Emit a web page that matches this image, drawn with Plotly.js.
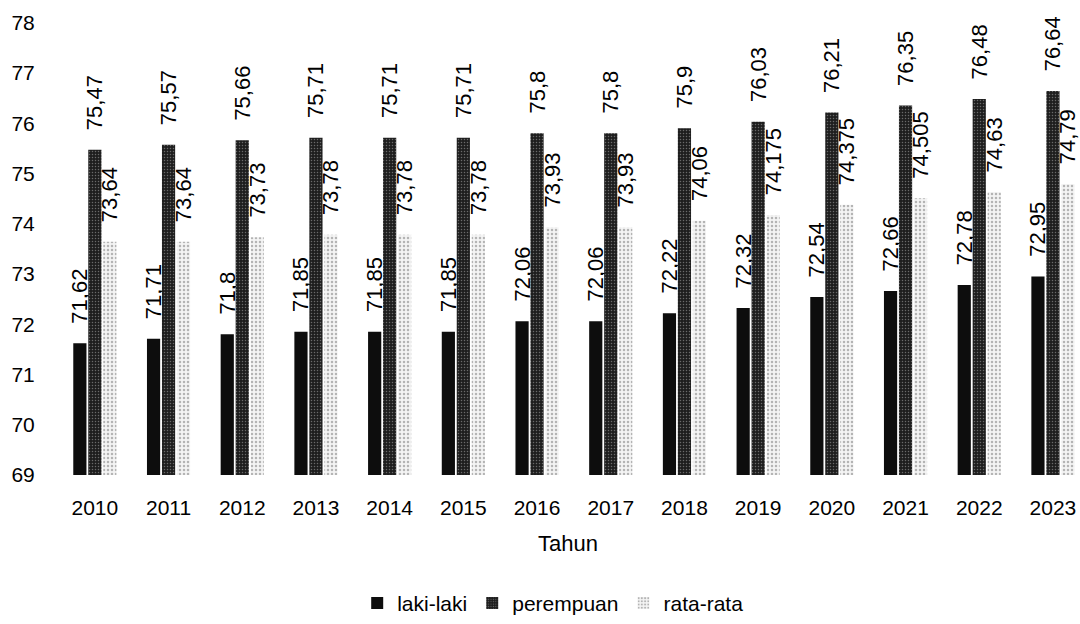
<!DOCTYPE html>
<html>
<head>
<meta charset="utf-8">
<script src="https://cdn.plot.ly/plotly-3.0.1.min.js"></script>
<style>
html,body{margin:0;padding:0;background:#fff;}
#chart{width:1080px;height:624px;}
</style>
</head>
<body>
<div id="chart"></div>
<script>
var years = ["2010","2011","2012","2013","2014","2015","2016","2017","2018","2019","2020","2021","2022","2023"];
var lakiLaki = [71.62,71.71,71.8,71.85,71.85,71.85,72.06,72.06,72.22,72.32,72.54,72.66,72.78,72.95];
var perempuan = [75.47,75.57,75.66,75.71,75.71,75.71,75.8,75.8,75.9,76.03,76.21,76.35,76.48,76.64];
var rataRata = [73.64,73.64,73.73,73.78,73.78,73.78,73.93,73.93,74.06,74.175,74.375,74.505,74.63,74.79];
var yTicks = [69,70,71,72,73,74,75,76,77,78];

var FONT = "Liberation Sans, Arial, sans-serif";
var PAD = "\u00a0\u00a0\u2009";
function labels(arr){ return arr.map(function(v){ return PAD + String(v).replace(".", ","); }); }

function barTrace(name, vals, pattern){
  return {
    type: "bar",
    name: name,
    x: years,
    y: vals,
    text: labels(vals),
    textposition: "outside",
    textangle: -90,
    constraintext: "none",
    cliponaxis: false,
    textfont: {family: FONT, size: 22, color: "#000"},
    marker: {color: pattern.bgcolor, line: {width: 0}, pattern: pattern},
    hoverinfo: "x+y"
  };
}

var data = [
  barTrace("laki-laki", lakiLaki, {shape: "", bgcolor: "#0d0d0d"}),
  barTrace("perempuan", perempuan, {shape: ".", bgcolor: "#1e1e1e", fgcolor: "#6a6a6a", size: 3, solidity: 0.2}),
  barTrace("rata-rata", rataRata, {shape: ".", bgcolor: "#f4f4f4", fgcolor: "#b4b4b4", size: 4, solidity: 0.3})
];

var layout = {
  width: 1080, height: 624,
  margin: {l: 58, r: 2, t: 0, b: 142},
  paper_bgcolor: "#fff", plot_bgcolor: "#fff",
  font: {family: FONT, size: 21, color: "#000"},
  barmode: "group",
  bargap: 0.39,
  bargroupgap: 0.12,
  showlegend: true,
  legend: {
    orientation: "h", x: 0.485, xanchor: "center", y: -0.27, yanchor: "middle",
    font: {family: FONT, size: 21, color: "#000"},
    traceorder: "normal"
  },
  xaxis: {
    type: "category",
    range: [-0.5, 13.34],
    showgrid: false, zeroline: false, showline: false,
    ticks: "outside", ticklen: 14, tickcolor: "rgba(0,0,0,0)",
    tickfont: {family: FONT, size: 21, color: "#000"},
    title: {text: "Tahun", font: {family: FONT, size: 22, color: "#000"}, standoff: 17}
  },
  yaxis: {
    range: [69, 78.45],
    tickvals: yTicks,
    ticktext: yTicks.map(String),
    showgrid: false, zeroline: false, showline: false,
    ticks: "outside", ticklen: 18, tickcolor: "rgba(0,0,0,0)",
    tickfont: {family: FONT, size: 21, color: "#000"}
  }
};

Plotly.newPlot("chart", data, layout, {displayModeBar: false, staticPlot: true});
</script>
</body>
</html>
